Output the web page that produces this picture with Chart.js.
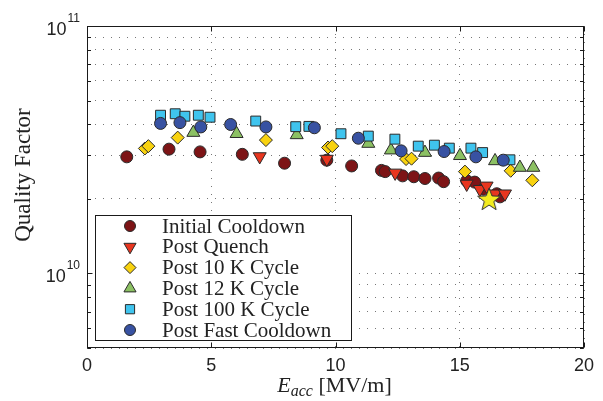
<!DOCTYPE html>
<html>
<head>
<meta charset="utf-8">
<script src="https://cdn.jsdelivr.net/npm/chart.js@4.4.0/dist/chart.umd.min.js"></script>
<style>
  html, body { margin: 0; padding: 0; background: #fff; }
  #qChart { display: block; }
</style>
</head>
<body>
<canvas id="qChart" width="603" height="401"></canvas>
<script>
// Q0 vs Eacc, one pair of arrays per test
var initialE = [1.6, 3.3, 4.55, 6.25, 7.95, 9.65, 10.65, 11.85, 12.0, 12.7, 13.15, 13.6, 14.15, 14.35, 15.28, 15.6, 15.95, 16.49, 16.62];
var initialQ = [2.96e10, 3.18e10, 3.10e10, 3.03e10, 2.79e10, 2.87e10, 2.72e10, 2.61e10, 2.58e10, 2.48e10, 2.46e10, 2.42e10, 2.43e10, 2.35e10, 2.37e10, 2.34e10, 2.19e10, 2.10e10, 2.04e10];

var quenchE = [6.95, 9.65, 12.4, 15.28, 15.81, 16.08, 16.42, 16.82];
var quenchQ = [2.97e10, 2.90e10, 2.55e10, 2.30e10, 2.19e10, 2.26e10, 2.10e10, 2.10e10];

var cycle10E = [2.33, 2.47, 3.65, 7.2, 9.7, 9.87, 12.84, 13.06, 15.21, 17.05, 17.92];
var cycle10Q = [3.20e10, 3.27e10, 3.54e10, 3.46e10, 3.23e10, 3.27e10, 2.90e10, 2.91e10, 2.58e10, 2.60e10, 2.38e10];

var cycle12E = [4.28, 6.02, 8.44, 11.32, 12.23, 13.6, 15.01, 16.42, 17.42, 17.96];
var cycle12Q = [3.71e10, 3.67e10, 3.63e10, 3.35e10, 3.15e10, 3.08e10, 2.99e10, 2.85e10, 2.68e10, 2.68e10];

var cycle100E = [2.96, 3.55, 3.94, 4.48, 4.95, 6.79, 8.4, 8.93, 10.22, 11.32, 12.39, 13.33, 13.98, 14.58, 15.45, 15.92, 17.02];
var cycle100Q = [4.36e10, 4.42e10, 4.32e10, 4.36e10, 4.28e10, 4.13e10, 3.92e10, 3.93e10, 3.67e10, 3.59e10, 3.49e10, 3.27e10, 3.30e10, 3.21e10, 3.21e10, 3.08e10, 2.88e10];

var fastE = [2.96, 3.74, 4.58, 5.78, 7.2, 9.15, 10.92, 12.64, 14.37, 15.65, 16.75];
var fastQ = [4.04e10, 4.07e10, 3.91e10, 4.00e10, 3.91e10, 3.88e10, 3.52e10, 3.13e10, 3.11e10, 2.96e10, 2.87e10];

var starE = [16.18];
var starQ = [2.0e10];

var xTicks = [0, 5, 10, 15, 20];
var yTicks = [5e9, 6e9, 7e9, 8e9, 9e9, 1e10, 2e10, 3e10, 4e10, 5e10, 6e10, 7e10, 8e10, 9e10, 1e11];
var yLabelTicks = [1e10, 1e11];

var serif = '"Liberation Serif", "Times New Roman", serif';
var sans = '"Liberation Sans", Arial, sans-serif';

function pairs(xs, ys) {
    return xs.map(function (x, i) { return { x: x, y: ys[i] }; });
}

function makeStar(size, fill) {
    var c = document.createElement('canvas');
    c.width = size;
    c.height = size;
    var g = c.getContext('2d');
    var cx = size / 2, cy = size / 2 + 1, ro = size / 2 - 1, ri = ro * 0.42;
    g.beginPath();
    for (var i = 0; i < 10; i++) {
        var r = i % 2 ? ri : ro;
        var ang = -Math.PI / 2 + i * Math.PI / 5;
        g.lineTo(cx + r * Math.cos(ang), cy + r * Math.sin(ang));
    }
    g.closePath();
    g.fillStyle = fill;
    g.fill();
    g.strokeStyle = '#333';
    g.lineWidth = 1;
    g.stroke();
    return c;
}

function series(label, xs, ys, color, style, radius, rotation, order) {
    return {
        label: label,
        data: pairs(xs, ys),
        pointStyle: style,
        pointRadius: radius,
        pointHoverRadius: radius,
        pointRotation: rotation,
        backgroundColor: color,
        borderColor: '#2a2a2a',
        borderWidth: 1,
        showLine: false,
        order: order
    };
}

// frame, inward ticks, axis labels and the boxed legend inside the axes
var decorPlugin = {
    id: 'decor',
    afterDatasetsDraw: function (chart) {
        var ctx = chart.ctx, a = chart.chartArea;
        var xs = chart.scales.x, ys = chart.scales.y;
        ctx.save();
        ctx.setLineDash([]);
        ctx.strokeStyle = '#1a1a1a';
        ctx.lineWidth = 1;
        var L = Math.round(a.left) + 0.5, R = Math.round(a.right) - 0.5;
        var T = Math.round(a.top) + 0.5, B = Math.round(a.bottom) - 0.5;
        ctx.strokeRect(L, T, R - L, B - T);

        ctx.beginPath();
        xTicks.forEach(function (v) {
            var px = Math.round(xs.getPixelForValue(v)) + 0.5;
            ctx.moveTo(px, B); ctx.lineTo(px, B - 5);
            ctx.moveTo(px, T); ctx.lineTo(px, T + 5);
        });
        yTicks.forEach(function (v) {
            var py = Math.round(ys.getPixelForValue(v)) + 0.5;
            var len = yLabelTicks.indexOf(v) >= 0 ? 5 : 3.5;
            ctx.moveTo(L, py); ctx.lineTo(L + len, py);
            ctx.moveTo(R, py); ctx.lineTo(R - len, py);
        });
        ctx.stroke();

        // y tick labels as 10^n
        ctx.fillStyle = '#222';
        ctx.textAlign = 'right';
        ctx.textBaseline = 'alphabetic';
        yLabelTicks.forEach(function (v) {
            var py = ys.getPixelForValue(v);
            var exp = String(Math.round(Math.log10(v)));
            ctx.font = '12px ' + sans;
            ctx.fillText(exp, 80, py - 4);
            var ew = ctx.measureText(exp).width;
            ctx.font = '18px ' + sans;
            ctx.fillText('10', 80 - ew - 1, py + 8.5);
        });

        // y axis title
        ctx.save();
        ctx.translate(24, 175);
        ctx.rotate(-Math.PI / 2);
        ctx.textAlign = 'center';
        ctx.textBaseline = 'middle';
        ctx.font = '23px ' + serif;
        ctx.fillText('Quality Factor', 0, 0);
        ctx.restore();

        // x axis title: E_acc [MV/m]
        var parts = [
            { t: 'E', f: 'italic 22px ' + serif, dy: 0 },
            { t: 'acc', f: 'italic 16px ' + serif, dy: 4 },
            { t: ' [MV/m]', f: '22px ' + serif, dy: 0 }
        ];
        var total = 0;
        parts.forEach(function (p) { ctx.font = p.f; p.w = ctx.measureText(p.t).width; total += p.w; });
        var tx = (a.left + a.right) / 2 - 1 - total / 2;
        ctx.textAlign = 'left';
        parts.forEach(function (p) {
            ctx.font = p.f;
            ctx.fillText(p.t, tx, 392 + p.dy);
            tx += p.w;
        });

        // legend box
        var bx = 95, by = 215, bw = 256, bh = 125;
        ctx.fillStyle = '#fff';
        ctx.fillRect(bx, by, bw, bh);
        ctx.strokeStyle = '#1a1a1a';
        ctx.strokeRect(bx + 0.5, by + 0.5, bw, bh);
        var row = 0;
        chart.data.datasets.forEach(function (ds) {
            if (ds.hideInLegend) return;
            var cy = 226 + row * 20.8;
            ctx.fillStyle = ds.backgroundColor;
            ctx.strokeStyle = ds.borderColor;
            ctx.lineWidth = ds.borderWidth;
            Chart.helpers.drawPoint(ctx, {
                pointStyle: ds.pointStyle,
                radius: ds.pointRadius - 0.5,
                rotation: ds.pointRotation,
                borderWidth: ds.borderWidth
            }, 130, cy);
            ctx.fillStyle = '#222';
            ctx.font = '21px ' + serif;
            ctx.textAlign = 'left';
            ctx.textBaseline = 'middle';
            ctx.fillText(ds.label, 162, cy + 1);
            row++;
        });
        ctx.restore();
    }
};

var starSet = series('', starE, starQ, '#f3ec1f', makeStar(26, '#f3ec1f'), 12, 0, 0);
starSet.hideInLegend = true;

var ctx = document.getElementById('qChart').getContext('2d');

var myChart = new Chart(ctx, {
    type: 'scatter',
    data: {
        datasets: [
            series('Initial Cooldown', initialE, initialQ, '#7d1416', 'circle', 6, 0, 6),
            series('Post Quench', quenchE, quenchQ, '#e8361f', 'triangle', 7.5, 180, 5),
            series('Post 10 K Cycle', cycle10E, cycle10Q, '#f8d20f', 'rectRot', 6.5, 0, 4),
            series('Post 12 K Cycle', cycle12E, cycle12Q, '#8cc163', 'triangle', 7.5, 0, 3),
            series('Post 100 K Cycle', cycle100E, cycle100Q, '#3fc4ee', 'rect', 7, 0, 2),
            series('Post Fast Cooldown', fastE, fastQ, '#3852a2', 'circle', 6, 0, 1),
            starSet
        ]
    },
    options: {
        responsive: false,
        animation: false,
        devicePixelRatio: 1,
        events: [],
        layout: { padding: { top: 26, right: 19, left: 0, bottom: 0 } },
        plugins: {
            legend: { display: false },
            tooltip: { enabled: false }
        },
        scales: {
            x: {
                type: 'linear',
                min: 0,
                max: 20,
                afterBuildTicks: function (scale) {
                    scale.ticks = xTicks.map(function (v) { return { value: v }; });
                },
                afterFit: function (scale) { scale.height = 53; },
                ticks: {
                    font: { family: sans, size: 18 },
                    color: '#222',
                    padding: 7,
                    maxRotation: 0,
                    autoSkip: false
                },
                grid: { color: '#777', lineWidth: 1, drawTicks: false },
                border: { display: false, dash: [1, 7] }
            },
            y: {
                type: 'logarithmic',
                min: 5e9,
                max: 1e11,
                afterBuildTicks: function (scale) {
                    scale.ticks = yTicks.map(function (v) { return { value: v }; });
                },
                afterFit: function (scale) { scale.width = 87; },
                ticks: { display: false, autoSkip: false },
                grid: { color: '#777', lineWidth: 1, drawTicks: false },
                border: { display: false, dash: [1, 7] }
            }
        }
    },
    plugins: [decorPlugin]
});
</script>
</body>
</html>
